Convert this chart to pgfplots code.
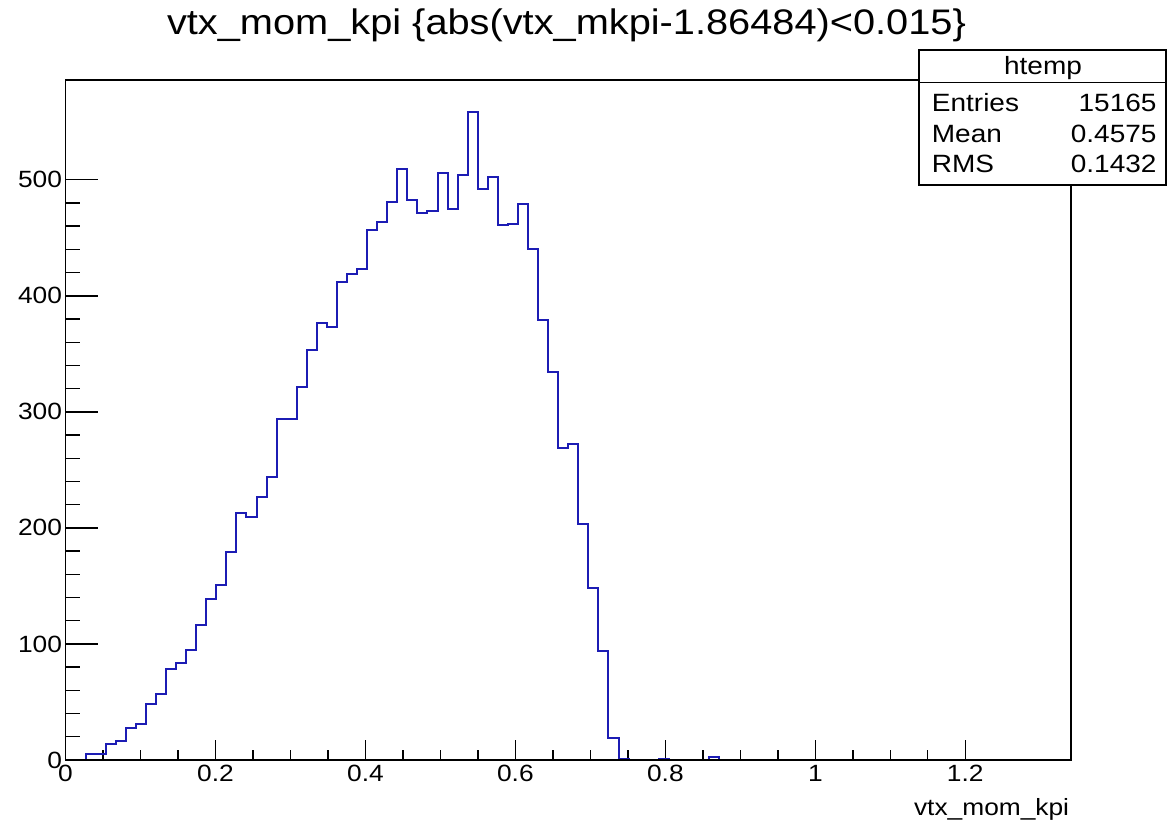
\documentclass[border=0pt]{standalone}
\usepackage{fontspec}
\setmainfont{Liberation Sans}[FakeStretch=1.12]
\usepackage{pgfplots}
\pgfplotsset{compat=1.18}
\definecolor{histblue}{RGB}{28,28,180}
\begin{document}
\begin{tikzpicture}[x=1pt,y=1pt]
\useasboundingbox (0,0) rectangle (1168,824);
\pgfplotsset{
  common/.style={
    at={(65.5pt,64pt)}, anchor=south west, scale only axis,
    width=1005.5pt, height=680pt,
    xmin=0, xmax=1.341, ymin=0, ymax=586,
    tick align=inside, tick pos=left,
    axis line style={line width=1.4pt},
    every tick/.style={black, line width=1.4pt},
    tick label style={font=\fontsize{23.5}{24}\selectfont},
    /pgf/number format/assume math mode=true,
  }
}
\begin{axis}[common,
    xtick={0,0.2,0.4,0.6,0.8,1,1.2},
    minor x tick num=3,
    ytick=\empty,
    major tick length=20pt, minor tick length=10pt,
    xticklabel style={yshift=-2pt},
  ]
\addplot[histblue, line width=2pt, const plot mark left, mark=none] coordinates {
(0,0) (0.02682,5) (0.05364,14) (0.06705,16) (0.08046,28) (0.09387,31)
(0.10728,48) (0.12069,57) (0.1341,78) (0.14751,84) (0.16092,95)
(0.17433,116) (0.18774,139) (0.20115,151) (0.21456,179) (0.22797,213)
(0.24138,209) (0.25479,227) (0.2682,244) (0.28161,294) (0.29502,294)
(0.30843,321) (0.32184,353) (0.33525,377) (0.34866,373) (0.36207,412)
(0.37548,419) (0.38889,423) (0.4023,457) (0.41571,464) (0.42912,481)
(0.44253,509) (0.45594,483) (0.46935,471) (0.48276,473) (0.49617,506)
(0.50958,475) (0.52299,504) (0.5364,558) (0.54981,492) (0.56322,502)
(0.57663,461) (0.59004,462) (0.60345,479) (0.61686,440) (0.63027,379)
(0.64368,334) (0.65709,269) (0.6705,272) (0.68391,203) (0.69732,148)
(0.71073,94) (0.72414,19) (0.73755,1) (0.75096,0) (0.79119,1)
(0.8046,0) (0.85824,3) (0.87165,0) (1.341,0)
};
\end{axis}
\begin{axis}[common,
    xtick=\empty,
    ytick={0,100,200,300,400,500},
    minor y tick num=4,
    major tick length=32pt, minor tick length=15pt,
    axis on top,
  ]
\end{axis}
\node[anchor=base, inner sep=0pt, font=\fontsize{35.5}{36}\selectfont] at (566.5,789) {vtx\_mom\_kpi \{abs(vtx\_mkpi-1.86484)<0.015\}};
\node[anchor=base east, inner sep=0pt, font=\fontsize{23.5}{24}\selectfont] at (1069.3,8) {vtx\_mom\_kpi};
\filldraw[fill=white, draw=black, line width=1.1pt] (919,774) rectangle (1166,639);
\draw[line width=1.1pt] (919,741.3) -- (1166,741.3);
\node[anchor=base, inner sep=0pt, font=\fontsize{25}{25}\selectfont] at (1043,749) {htemp};
\node[anchor=base west, inner sep=0pt, font=\fontsize{25}{25}\selectfont] at (931.7,712.3) {Entries};
\node[anchor=base east, inner sep=0pt, font=\fontsize{25}{25}\selectfont] at (1156.7,712.3) {15165};
\node[anchor=base west, inner sep=0pt, font=\fontsize{25}{25}\selectfont] at (931.7,681) {Mean};
\node[anchor=base east, inner sep=0pt, font=\fontsize{25}{25}\selectfont] at (1156.7,681) {0.4575};
\node[anchor=base west, inner sep=0pt, font=\fontsize{25}{25}\selectfont] at (931.7,651) {RMS};
\node[anchor=base east, inner sep=0pt, font=\fontsize{25}{25}\selectfont] at (1156.7,651) {0.1432};
\end{tikzpicture}
\end{document}
